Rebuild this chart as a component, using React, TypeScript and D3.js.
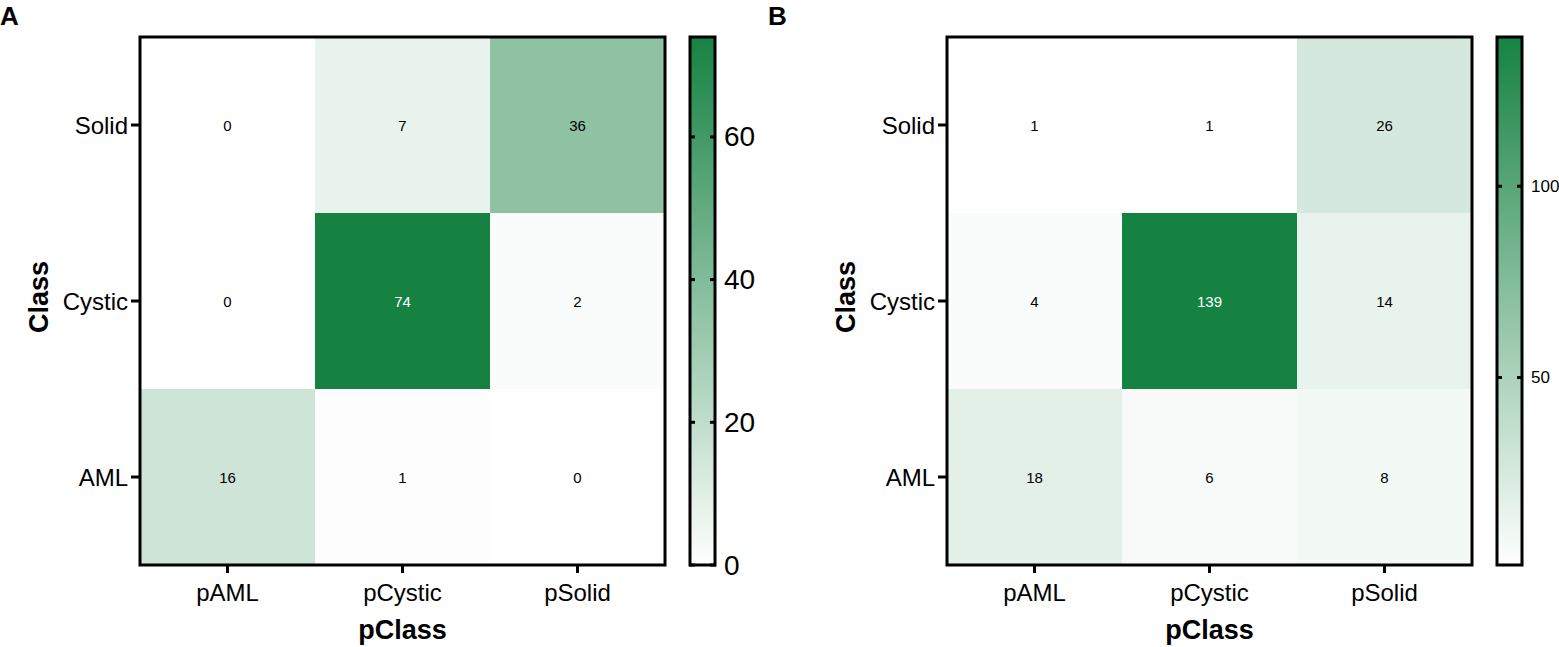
import React from "react";
import * as d3 from "d3";

const predictedClasses = ["pAML", "pCystic", "pSolid"];
const trueClasses = ["Solid", "Cystic", "AML"];
const valuesA = [
  [0, 7, 36],
  [0, 74, 2],
  [16, 1, 0],
];
const valuesB = [
  [1, 1, 26],
  [4, 139, 14],
  [18, 6, 8],
];
const domainA = [0, 74];
const domainB = [1, 139];
const ticksA = [0, 20, 40, 60];
const ticksB = [50, 100];

const FONT = "'Liberation Sans', Arial, sans-serif";
const LOW = "#ffffff";
const HIGH = "#168242";

type PanelProps = {
  id: string;
  letter: string;
  letterX: number;
  x0: number;
  values: number[][];
  domain: number[];
  ticks: number[];
  tickFont: number;
};

function Panel({ id, letter, letterX, x0, values, domain, ticks, tickFont }: PanelProps) {
  const y0 = 37;
  const y1 = 565;
  const x1 = x0 + 525;
  const x = d3.scaleBand<string>().domain(predictedClasses).range([x0, x1]);
  const y = d3.scaleBand<string>().domain(trueClasses).range([y0, y1]);
  const color = d3
    .scaleLinear<string>()
    .domain(domain)
    .range([LOW, HIGH])
    .interpolate(d3.interpolateRgb);
  const cbX0 = x1 + 25;
  const cbW = 25;
  const cbY = d3.scaleLinear().domain(domain).range([y1, y0]);
  const gradId = "grad" + id;
  const stops = d3.range(0, 11).map((i) => i / 10);

  return (
    <g>
      <text x={letterX} y={25} fontFamily={FONT} fontWeight="bold" fontSize={26}>
        {letter}
      </text>
      {trueClasses.map((r, ri) =>
        predictedClasses.map((c, ci) => {
          const v = values[ri][ci];
          return (
            <g key={r + c}>
              <rect
                x={x(c)}
                y={y(r)}
                width={x.bandwidth()}
                height={y.bandwidth()}
                fill={color(v)}
              />
              <text
                x={(x(c) as number) + x.bandwidth() / 2}
                y={(y(r) as number) + y.bandwidth() / 2}
                textAnchor="middle"
                dominantBaseline="central"
                fontFamily={FONT}
                fontSize={15}
                fill={v / domain[1] > 0.6 ? "#ffffff" : "#000000"}
              >
                {v}
              </text>
            </g>
          );
        })
      )}
      <rect x={x0} y={y0} width={x1 - x0} height={y1 - y0} fill="none" stroke="#000" strokeWidth={3} />
      {predictedClasses.map((c) => {
        const cx = (x(c) as number) + x.bandwidth() / 2;
        return (
          <g key={c}>
            <line x1={cx} x2={cx} y1={y1} y2={y1 + 8} stroke="#000" strokeWidth={3} />
            <text x={cx} y={601} textAnchor="middle" fontFamily={FONT} fontSize={24}>
              {c}
            </text>
          </g>
        );
      })}
      {trueClasses.map((r) => {
        const cy = (y(r) as number) + y.bandwidth() / 2;
        return (
          <g key={r}>
            <line x1={x0 - 9} x2={x0} y1={cy} y2={cy} stroke="#000" strokeWidth={3} />
            <text
              x={x0 - 12}
              y={cy}
              textAnchor="end"
              dominantBaseline="central"
              fontFamily={FONT}
              fontSize={24}
            >
              {r}
            </text>
          </g>
        );
      })}
      <text
        x={(x0 + x1) / 2}
        y={639}
        textAnchor="middle"
        fontFamily={FONT}
        fontWeight="bold"
        fontSize={27}
      >
        pClass
      </text>
      <text
        transform={`translate(${x0 - 92},${(y0 + y1) / 2 - 4}) rotate(-90)`}
        textAnchor="middle"
        fontFamily={FONT}
        fontWeight="bold"
        fontSize={27}
      >
        Class
      </text>
      <defs>
        <linearGradient id={gradId} x1="0" y1="1" x2="0" y2="0">
          {stops.map((s) => (
            <stop
              key={s}
              offset={s}
              stopColor={color(domain[0] + s * (domain[1] - domain[0]))}
            />
          ))}
        </linearGradient>
      </defs>
      <rect
        x={cbX0}
        y={y0}
        width={cbW}
        height={y1 - y0}
        fill={`url(#${gradId})`}
        stroke="#000"
        strokeWidth={3}
      />
      {ticks.map((t) => (
        <g key={t}>
          <line x1={cbX0 - 1} x2={cbX0 + 5} y1={cbY(t)} y2={cbY(t)} stroke="#000" strokeWidth={3} />
          <line
            x1={cbX0 + cbW - 5}
            x2={cbX0 + cbW + 1}
            y1={cbY(t)}
            y2={cbY(t)}
            stroke="#000"
            strokeWidth={3}
          />
          <text
            x={cbX0 + cbW + 9}
            y={cbY(t)}
            dominantBaseline="central"
            fontFamily={FONT}
            fontSize={tickFont}
          >
            {t}
          </text>
        </g>
      ))}
    </g>
  );
}

export default function App() {
  return (
    <svg
      width={1559}
      height={647}
      style={{ position: "absolute", left: 0, top: 0, background: "#fff" }}
    >
      <rect x={0} y={0} width={1559} height={647} fill="#fff" />
      <Panel
        id="A"
        letter="A"
        letterX={0}
        x0={140}
        values={valuesA}
        domain={domainA}
        ticks={ticksA}
        tickFont={28}
      />
      <Panel
        id="B"
        letter="B"
        letterX={768}
        x0={947}
        values={valuesB}
        domain={domainB}
        ticks={ticksB}
        tickFont={17}
      />
    </svg>
  );
}
